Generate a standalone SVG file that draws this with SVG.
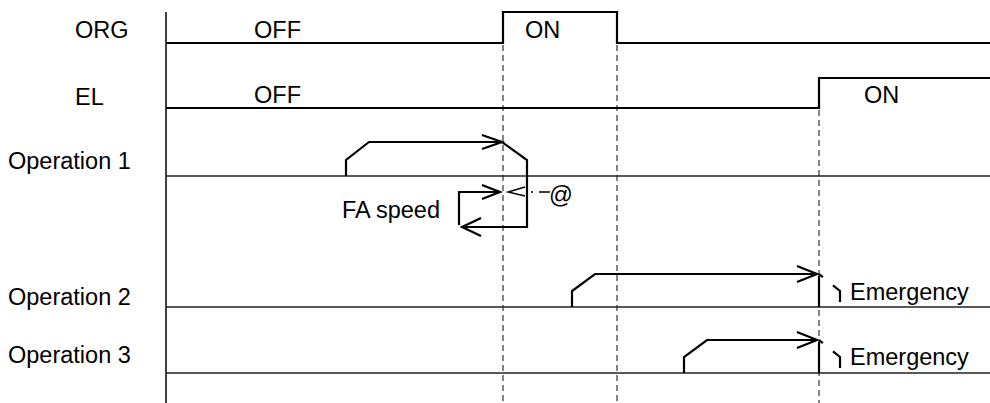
<svg xmlns="http://www.w3.org/2000/svg" width="990" height="403" viewBox="0 0 990 403">
<defs>
<style>
text{font-family:"Liberation Sans",Arial,sans-serif;font-size:23.5px;fill:#000}
.sig{fill:none;stroke:#000;stroke-width:2.2}
.base{fill:none;stroke:#222;stroke-width:1.3}
.guide{fill:none;stroke:#333;stroke-width:1.2;stroke-dasharray:6 4}
.prof{fill:none;stroke:#000;stroke-width:2.2;stroke-linejoin:miter}
.head{fill:none;stroke:#000;stroke-width:2.2}
.thin{fill:none;stroke:#000;stroke-width:1.4}
.emg{fill:none;stroke:#000;stroke-width:2.2;stroke-dasharray:5 13 20 60}
</style>
</defs>
<g id="axis">
<line x1="166" y1="12" x2="166" y2="403" stroke="#000" stroke-width="1.5"/>
</g>
<g id="guides">
<line class="guide" x1="503" y1="45" x2="503" y2="403"/>
<line class="guide" x1="617" y1="45" x2="617" y2="403"/>
<line class="guide" x1="819" y1="110" x2="819" y2="403"/>
</g>
<g id="org">
<text x="75" y="38">ORG</text>
<polyline class="sig" points="166,43 503,43 503,12 617,12 617,43 990,43"/>
<text x="254" y="38">OFF</text>
<text x="525" y="38">ON</text>
</g>
<g id="el">
<text x="75" y="105">EL</text>
<polyline class="sig" points="166,108 819,108 819,78 990,78"/>
<text x="254" y="103">OFF</text>
<text x="864" y="103">ON</text>
</g>
<g id="op1">
<text x="8" y="169">Operation 1</text>
<line class="base" x1="166" y1="176" x2="990" y2="176"/>
<polyline class="prof" points="346,176 346,160 369,142 502,142 527,160 527,227 462,227"/>
<polyline class="head" points="482,135 502,142 482,149"/>
<polyline class="head" points="481,218 462,227 481,236"/>
<polyline class="prof" points="459,225 459,192 500,192"/>
<polyline class="head" points="482,185 500,192 482,199"/>
<polyline class="thin" points="525,187 508,192 525,196"/>
<line x1="531" y1="192" x2="550" y2="192" stroke="#000" stroke-width="1.3" stroke-dasharray="2 6 9 0"/>
<text x="549" y="203">@</text>
<text x="342" y="218">FA speed</text>
</g>
<g id="op2">
<text x="8" y="305">Operation 2</text>
<line class="base" x1="166" y1="307" x2="990" y2="307"/>
<polyline class="prof" points="572,307 572,291 595,274 817,274"/>
<polyline class="head" points="797,266 817,274 797,282"/>
<line class="prof" x1="819" y1="307" x2="819" y2="276"/>
<polyline class="emg" points="819,274 840,291 840,307"/>
<text x="850" y="300">Emergency</text>
</g>
<g id="op3">
<text x="8" y="363">Operation 3</text>
<line class="base" x1="166" y1="373" x2="990" y2="373"/>
<polyline class="prof" points="684,373 684,357 707,340 817,340"/>
<polyline class="head" points="797,332 817,340 797,348"/>
<line class="prof" x1="819" y1="373" x2="819" y2="342"/>
<polyline class="emg" points="819,340 840,357 840,373"/>
<text x="850" y="365">Emergency</text>
</g>
</svg>
